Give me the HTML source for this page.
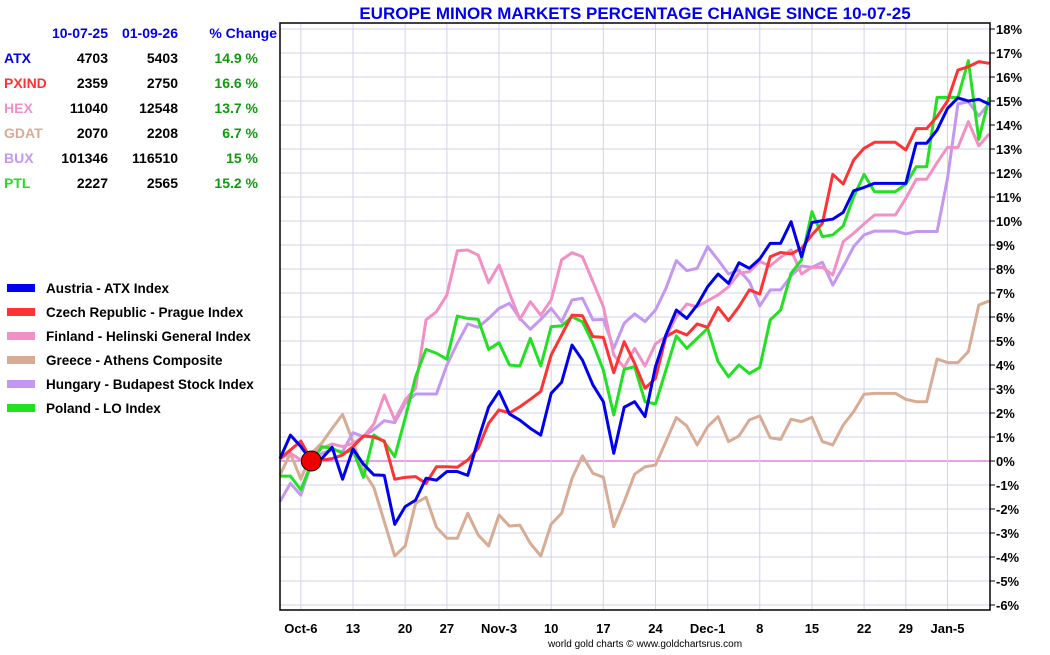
<!DOCTYPE html>
<html><head><meta charset="utf-8"><style>
body{margin:0;background:#fff;width:1050px;height:650px;overflow:hidden;font-family:"Liberation Sans",sans-serif}
svg text{font-family:"Liberation Sans",sans-serif}
</style></head><body>
<svg id="chart" width="1050" height="650" xmlns="http://www.w3.org/2000/svg">
<text x="635" y="19" text-anchor="middle" font-size="17" font-weight="bold" fill="#0000ee">EUROPE MINOR MARKETS PERCENTAGE CHANGE SINCE 10-07-25</text>
<g id="grid"></g>
<g id="series"></g>
<g id="axes"></g>
<g id="table"></g>
<g id="legend"></g>
<text x="645" y="647" text-anchor="middle" font-size="10" fill="#000">world gold charts © www.goldchartsrus.com</text>
</svg>
<script>
const xLabels=["Oct-6","13","20","27","Nov-3","10","17","24","Dec-1","8","15","22","29","Jan-5"];
const xLabelIdx=[2,7,12,16,21,26,31,36,41,46,51,56,60,64];
const yTicks=[-6,-5,-4,-3,-2,-1,0,1,2,3,4,5,6,7,8,9,10,11,12,13,14,15,16,17,18];
const atx=[0.1,1.08,0.6,0.0,0.1,0.57,-0.76,0.5,-0.13,-0.58,-0.6,-2.64,-1.9,-1.63,-0.72,-0.8,-0.44,-0.44,-0.6,0.88,2.24,2.9,1.96,1.7,1.36,1.08,2.82,3.28,4.83,4.2,3.17,2.47,0.32,2.24,2.47,1.85,3.93,5.25,6.29,5.94,6.5,7.26,7.79,7.4,8.26,8.03,8.42,9.07,9.07,9.97,8.51,9.94,10.01,10.08,10.36,11.26,11.4,11.57,11.57,11.57,11.57,13.24,13.24,13.79,14.69,15.13,15.0,15.07,14.87];
const pxind=[0.1,0.46,0.83,0.04,0.04,0.1,0.25,0.6,1.04,1.0,0.83,-0.76,-0.68,-0.65,-0.93,-0.24,-0.24,-0.26,0.04,0.53,1.57,2.13,2.0,2.26,2.57,2.9,4.42,5.25,6.08,6.05,5.18,5.15,3.68,4.97,4.07,3.03,3.44,5.18,5.43,5.25,5.71,5.57,6.4,5.85,6.43,7.13,6.96,8.51,8.69,8.63,8.86,9.42,9.9,11.94,11.54,12.54,13.03,13.28,13.28,13.28,12.96,13.85,13.85,14.35,15.0,16.29,16.43,16.64,16.57];
const hex=[0.1,0.32,0.04,0.25,0.53,0.71,0.6,0.74,1.01,1.54,2.75,1.71,2.54,3.03,5.88,6.22,6.92,8.76,8.79,8.58,7.43,8.17,6.99,5.9,6.64,6.08,6.71,8.38,8.68,8.51,7.47,6.43,4.42,3.9,4.69,3.96,4.88,5.18,6.01,6.54,6.43,6.68,6.92,7.26,7.82,7.89,8.31,8.13,8.49,8.79,7.79,8.07,8.07,7.75,9.14,9.49,9.88,10.25,10.25,10.25,10.94,11.74,11.74,12.43,13.07,13.07,14.14,13.13,13.63];
const gdat=[-0.58,0.32,-0.76,0.32,0.74,1.36,1.94,0.8,-0.44,-1.1,-2.53,-3.96,-3.54,-1.76,-1.51,-2.76,-3.22,-3.22,-2.18,-3.08,-3.54,-2.25,-2.71,-2.67,-3.43,-3.96,-2.63,-2.18,-0.72,0.21,-0.51,-0.68,-2.74,-1.69,-0.55,-0.24,-0.17,0.81,1.81,1.46,0.67,1.43,1.85,0.81,1.04,1.71,1.88,0.97,0.9,1.74,1.64,1.82,0.81,0.67,1.5,2.06,2.78,2.82,2.82,2.82,2.57,2.47,2.47,4.25,4.1,4.1,4.56,6.5,6.67];
const bux=[-1.69,-0.93,-1.42,-0.13,0.32,0.46,0.39,1.18,1.01,1.32,1.68,1.6,2.4,2.79,2.79,2.79,4.0,4.9,5.71,5.57,5.94,6.36,6.57,5.94,5.49,5.9,6.36,5.8,6.71,6.78,5.88,5.9,4.69,5.74,6.13,5.81,6.29,7.19,8.35,7.93,8.03,8.93,8.38,7.79,7.96,7.47,6.46,7.13,7.13,7.71,8.13,8.07,8.28,7.33,8.1,8.93,9.42,9.58,9.58,9.58,9.46,9.56,9.56,9.56,11.78,14.88,14.97,14.38,14.9];
const ptl=[-0.63,-0.63,-1.2,-0.1,0.6,0.53,0.32,0.46,-0.68,1.08,0.8,0.18,1.78,3.51,4.65,4.49,4.24,6.04,5.94,5.9,4.65,4.93,4.0,3.96,5.11,3.96,5.6,5.63,6.01,5.8,4.9,3.79,1.92,3.82,3.93,2.47,2.38,3.79,5.21,4.69,5.11,5.53,4.14,3.51,4.0,3.65,3.9,5.88,6.29,7.82,8.38,10.39,9.35,9.42,9.79,11.01,11.94,11.22,11.22,11.22,11.54,12.26,12.26,15.15,15.15,15.15,16.68,13.4,15.15];
const seriesNames=["gdat","bux","hex","ptl","pxind","atx"];
const seriesData=[gdat,bux,hex,ptl,pxind,atx];
const seriesColors=["#d8ab94","#c497f0","#f290c6","#22e022","#ff3333","#0000ee"];
const tblCodes=["ATX","PXIND","HEX","GDAT","BUX","PTL"];
const tblStart=["4703","2359","11040","2070","101346","2227"];
const tblEnd=["5403","2750","12548","2208","116510","2565"];
const tblPct=["14.9 %","16.6 %","13.7 %","6.7 %","15 %","15.2 %"];
const tblColors=["#0000ee","#ff3333","#f290c6","#d8ab94","#c497f0","#22e022"];
const legendNames=["Austria - ATX Index","Czech Republic - Prague Index","Finland - Helinski General Index","Greece - Athens Composite","Hungary - Budapest Stock Index","Poland - LO Index"];

const NS="http://www.w3.org/2000/svg";
const L=280,R=990,T=23,B=610,STEP=10.43;
const xs=i=>L+i*STEP;
const ys=v=>461-v*24;
function mk(parent,tag,attrs,text){const e=document.createElementNS(NS,tag);for(const k in attrs)e.setAttribute(k,attrs[k]);if(text!==undefined)e.textContent=text;parent.appendChild(e);return e;}
const grid=document.getElementById('grid'),axes=document.getElementById('axes'),ser=document.getElementById('series');
yTicks.forEach(v=>{
  const g=mk(grid,'line',{x1:L,x2:R,y1:ys(v),y2:ys(v),stroke:v===0?'#cc44cc':'#d2d2ee','stroke-width':1});
  
  
  const t=mk(axes,'line',{x1:R,x2:R+5,y1:ys(v),y2:ys(v),stroke:'#000'});
  
  
  const lb=mk(axes,'text',{x:R+6,y:ys(v)+5,'font-size':13,'font-weight':'bold',fill:'#000'},v+'%');
  
  
});
xLabelIdx.forEach((ix,k)=>{
  const g=mk(grid,'line',{x1:xs(ix),x2:xs(ix),y1:T,y2:B,stroke:'#d2d2ee','stroke-width':1});
  
  
  const lb=mk(axes,'text',{x:xs(ix),y:633,'text-anchor':'middle','font-size':13,'font-weight':'bold',fill:'#000'},xLabels[k]);
  
  
});
const frame=mk(axes,'rect',{x:L,y:T,width:R-L,height:B-T,fill:'none',stroke:'#000','stroke-width':1.5});


seriesData.forEach((d,s)=>{
  const p=mk(ser,'polyline',{points:d.map((v,i)=>xs(i)+','+ys(v)).join(' '),fill:'none',stroke:seriesColors[s],'stroke-width':3,'stroke-linejoin':'round'});
  
  
});
const dot=mk(ser,'circle',{cx:xs(3),cy:ys(0),r:10,fill:'#ee0000',stroke:'#000','stroke-width':1});


const tb=document.getElementById('table');
[["10-07-25",108],["01-09-26",178],["% Change",277]].forEach(h=>{
  const e=mk(tb,'text',{x:h[1],y:38,'text-anchor':'end','font-size':14,'font-weight':'bold',fill:'#0000ee'},h[0]);
  
  
});
tblCodes.forEach((c,r)=>{
  const y=63+r*25;
  const a=mk(tb,'text',{x:4,y:y,'font-size':14,'font-weight':'bold',fill:tblColors[r]},c);
  
  
  const b=mk(tb,'text',{x:108,y:y,'text-anchor':'end','font-size':14,'font-weight':'bold',fill:'#000'},tblStart[r]);
  
  
  const c2=mk(tb,'text',{x:178,y:y,'text-anchor':'end','font-size':14,'font-weight':'bold',fill:'#000'},tblEnd[r]);
  
  
  const d=mk(tb,'text',{x:258,y:y,'text-anchor':'end','font-size':14,'font-weight':'bold',fill:'#119911'},tblPct[r]);
  
  
});
const lg=document.getElementById('legend');
legendNames.forEach((n,r)=>{
  const y=288+r*24;
  const sw=mk(lg,'rect',{x:7,y:y-4,width:28,height:8,fill:tblColors[r]});
  
  
  const t=mk(lg,'text',{x:46,y:y+5,'font-size':13.5,'font-weight':'bold',fill:'#000'},n);
  
  
});
</script>
</body></html>
